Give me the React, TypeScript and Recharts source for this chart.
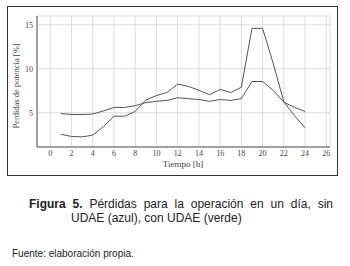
import { LineChart, Line, XAxis, YAxis, CartesianGrid } from "recharts";

const hours = [1, 2, 3, 4, 5, 6, 7, 8, 9, 10, 11, 12, 13, 14, 15, 16, 17, 18, 19, 20, 21, 22, 23, 24];
const sinUdae = [2.55, 2.3, 2.25, 2.45, 3.4, 4.6, 4.6, 5.15, 6.45, 6.95, 7.3, 8.25, 8.0, 7.55, 7.05, 7.65, 7.3, 7.9, 14.6, 14.6, 10.6, 6.25, 4.65, 3.3];
const conUdae = [4.9, 4.8, 4.8, 4.85, 5.2, 5.6, 5.6, 5.8, 6.15, 6.3, 6.4, 6.7, 6.6, 6.5, 6.3, 6.5, 6.4, 6.6, 8.55, 8.55, 7.55, 6.2, 5.6, 5.15];
const xTicks = [0, 2, 4, 6, 8, 10, 12, 14, 16, 18, 20, 22, 24, 26];
const yTicks = [5, 10, 15];

const data = hours.map((h, i) => ({ h, sin: sinUdae[i], con: conUdae[i] }));

const serif = "'Liberation Serif', 'DejaVu Serif', serif";
const sans = "'Liberation Sans', Arial, sans-serif";
const tick = { fontSize: 8, fill: "#444", fontFamily: serif };

export default function App() {
  return (
    <div style={{ position: "absolute", left: 0, top: 0, width: 350, height: 266, background: "#fff" }}>
      <div style={{ position: "absolute", left: 7, top: 6, width: 329, height: 168, border: "1px solid #333" }} />
      <div style={{ position: "absolute", left: 0, top: 0 }}>
        <LineChart width={350} height={180} data={data} margin={{ top: 16, right: 20, bottom: 3, left: 17 }}>
          <CartesianGrid stroke="#d4d4d4" strokeWidth={0.8} />
          <XAxis
            dataKey="h"
            type="number"
            domain={[-1.25, 26.35]}
            ticks={xTicks}
            allowDataOverflow
            tick={tick}
            tickLine={false}
            tickSize={1}
            tickMargin={2}
            height={30}
            axisLine={{ stroke: "#555" }}
          />
          <XAxis xAxisId="top" orientation="top" dataKey="h" type="number" domain={[-1.25, 26.35]} tick={false} tickLine={false} axisLine={{ stroke: "#555" }} height={0} />
          <YAxis
            type="number"
            domain={[1.1, 16]}
            ticks={yTicks}
            allowDataOverflow
            tick={tick}
            tickLine={false}
            tickSize={2}
            tickMargin={2}
            width={20}
            axisLine={{ stroke: "#555" }}
          />
          <YAxis yAxisId="right" orientation="right" domain={[1.1, 16]} tick={false} tickLine={false} axisLine={{ stroke: "#555" }} width={0} />
          <Line dataKey="sin" stroke="#555" strokeWidth={1} dot={false} isAnimationActive={false} />
          <Line dataKey="con" stroke="#555" strokeWidth={1} dot={false} isAnimationActive={false} />
        </LineChart>
      </div>
      <div style={{ position: "absolute", left: 183, top: 159, transform: "translateX(-50%)", fontFamily: serif, fontSize: 9, lineHeight: "10px", color: "#444", whiteSpace: "nowrap" }}>
        Tiempo [h]
      </div>
      <div style={{ position: "absolute", left: 16, top: 86, transform: "translate(-50%, -50%) rotate(-90deg)", fontFamily: serif, fontSize: 8.5, color: "#444", whiteSpace: "nowrap" }}>
        Perdidas de potencia [%]
      </div>
      <div style={{ position: "absolute", left: 29, top: 197, width: 304, fontFamily: sans, fontSize: 12, color: "#222", textAlign: "justify", textAlignLast: "justify", whiteSpace: "nowrap" }}>
        <b>Figura 5.</b> Pérdidas para la operación en un día, sin
      </div>
      <div style={{ position: "absolute", left: 71, top: 211, fontFamily: sans, fontSize: 12, color: "#222", whiteSpace: "nowrap" }}>
        UDAE (azul), con UDAE (verde)
      </div>
      <div style={{ position: "absolute", left: 12, top: 248, fontFamily: sans, fontSize: 10, color: "#222", whiteSpace: "nowrap" }}>
        Fuente: elaboración propia.
      </div>
    </div>
  );
}
